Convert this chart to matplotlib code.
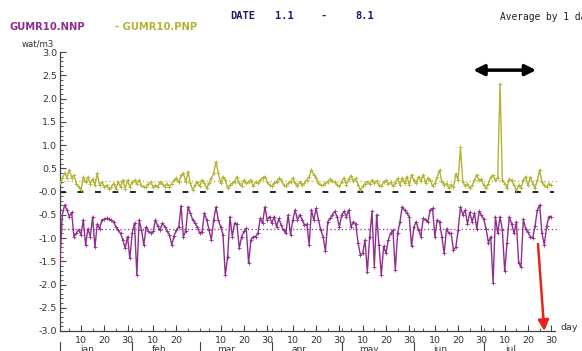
import numpy as np
import matplotlib
matplotlib.use("Agg")
import matplotlib.pyplot as plt
from matplotlib.transforms import blended_transform_factory

# ---------------- data ----------------
nnp = [
    -1.50, -0.50, -0.29, -0.40, -0.54, -0.45, -0.97, -0.90, -0.82, -0.93,
    -0.61, -1.15, -0.80, -0.97, -0.55, -1.20, -0.70, -0.80, -0.61, -0.60,
    -0.58, -0.60, -0.61, -0.65, -0.76, -0.83, -0.90, -1.04, -1.22, -0.97,
    -1.44, -0.90, -0.68, -1.80, -0.61, -0.83, -1.15, -0.76, -0.85, -0.90,
    -0.86, -0.61, -0.75, -0.83, -0.68, -0.76, -0.85, -0.93, -1.15, -0.95,
    -0.83, -0.76, -0.31,
    -0.97, -0.85, -0.33, -0.47, -0.61, -0.68, -0.76, -0.90, -0.87, -0.47,
    -0.61, -0.83, -1.04, -0.61, -0.33, -0.61, -0.76, -0.93, -1.80, -1.40,
    -0.54, -0.97, -0.68, -0.70, -1.22, -0.97, -0.86, -0.79, -1.54, -1.04,
    -0.97, -0.97, -0.90, -0.58, -0.68, -0.33, -0.61, -0.54, -0.68, -0.54,
    -0.76, -0.58, -0.72, -0.83, -0.90, -0.50, -0.93, -0.61, -0.40, -0.61,
    -0.50, -0.61, -0.72,
    -0.70, -1.15, -0.40, -0.61, -0.36, -0.61, -0.83, -0.97, -1.29, -0.65,
    -0.58, -0.50, -0.43, -0.54, -0.76, -0.50, -0.43, -0.54, -0.40, -0.76,
    -0.65, -0.70, -1.10, -1.36, -1.33, -1.04, -1.73, -0.97, -0.43, -1.62,
    -0.50, -1.15, -1.80, -1.18, -1.33, -1.04, -0.90, -0.83, -1.69, -0.90,
    -0.65, -0.33, -0.40, -0.47, -0.54, -1.18, -0.76, -0.65, -0.83, -0.97,
    -0.58, -0.61, -0.65, -0.40, -0.36, -0.97,
    -0.61, -0.65, -0.97, -1.33, -0.80, -0.90, -0.90, -1.26, -1.20, -0.83,
    -0.33, -0.50, -0.40, -0.70, -0.45, -0.65, -0.47, -0.80, -0.43, -0.50,
    -0.60, -0.80, -1.10, -0.97, -1.97, -0.54, -0.90, -0.54, -0.83, -1.72,
    -1.10, -0.54, -0.70, -0.90, -0.65, -1.54, -1.62, -0.60, -0.80, -0.88,
    -0.97, -1.00, -0.75, -0.40, -0.29, -0.90, -1.15, -0.75, -0.54, -0.54,
]

pnp = [
    0.18, 0.28, 0.40, 0.30, 0.46, 0.30, 0.35, 0.17, 0.10, 0.03,
    0.31, 0.20, 0.31, 0.17, 0.27, 0.13, 0.39, 0.13, 0.20, 0.10,
    0.13, 0.06, 0.10, 0.17, 0.06, 0.20, 0.10, 0.24, 0.06, 0.24,
    0.10, 0.20, 0.24, 0.17, 0.24, 0.13, 0.10, 0.10, 0.17, 0.20,
    0.10, 0.13, 0.10, 0.20, 0.17, 0.10, 0.17, 0.10, 0.17, 0.24,
    0.28, 0.20, 0.35,
    0.39, 0.21, 0.43, 0.18, 0.03, 0.14, 0.21, 0.11, 0.25, 0.18,
    0.07, 0.18, 0.30, 0.39, 0.64, 0.39, 0.18, 0.32, 0.25, 0.07,
    0.14, 0.18, 0.21, 0.32, 0.18, 0.11, 0.25, 0.18, 0.21, 0.25,
    0.11, 0.21, 0.18, 0.25, 0.30, 0.32, 0.21, 0.14, 0.11, 0.18,
    0.21, 0.29, 0.25, 0.14, 0.11, 0.18, 0.21, 0.29, 0.18, 0.11,
    0.21, 0.14, 0.18,
    0.25, 0.32, 0.46, 0.36, 0.30, 0.18, 0.13, 0.14, 0.18, 0.21,
    0.27, 0.22, 0.20, 0.14, 0.11, 0.21, 0.30, 0.15, 0.27, 0.34,
    0.22, 0.28, 0.14, 0.03, 0.11, 0.17, 0.21, 0.16, 0.24, 0.19,
    0.23, 0.14, 0.12, 0.20, 0.24, 0.16, 0.20, 0.11, 0.18, 0.28,
    0.15, 0.29, 0.18, 0.32, 0.14, 0.36, 0.24, 0.18, 0.32, 0.22,
    0.36, 0.18, 0.29, 0.25, 0.11, 0.18,
    0.31, 0.46, 0.20, 0.15, 0.17, 0.07, 0.15, 0.10, 0.38, 0.25,
    0.95, 0.20, 0.12, 0.17, 0.07, 0.13, 0.24, 0.36, 0.24, 0.27,
    0.13, 0.07, 0.17, 0.31, 0.35, 0.24, 0.30, 2.31, 0.24, 0.17,
    0.07, 0.27, 0.24, 0.13, 0.03, 0.13, 0.07, 0.24, 0.32, 0.13,
    0.31, 0.17, 0.07, 0.24, 0.46, 0.20, 0.13, 0.10, 0.17, 0.13,
]

months = ["jan", "feb", "mar", "apr", "may", "jun", "jul"]
month_len = [31, 29, 31, 30, 31, 30, 31]
day_labels = [10, 20, 30]
series_names = ["GUMR10.NNP", "- GUMR10.PNP"]
unit_label = "wat/m3"
date_parts = ["DATE", "1.1", "-", "8.1"]
avg_label = "Average by 1 day"

# ---------------- style ----------------
C_NNP = "#8e2f8e"
C_PNP = "#b3b336"
C_TXT = "#333333"

fig = plt.figure(figsize=(5.82, 3.51), dpi=100)
W, H = 582, 351
ax = fig.add_axes([60 / W, 20 / H, 495 / W, 279 / H])

days = np.arange(1, len(nnp) + 1)
ax.set_xlim(1, 213.6)
ax.set_ylim(-3.0, 3.0)

# zero dashed line
ax.plot([days[0], days[-1] + 1], [0, 0], color="black", lw=1.2,
        linestyle=(0, (3.5, 7.0)), zorder=2)

# mean dotted lines
for vals, col in ((nnp, C_NNP), (pnp, C_PNP)):
    m = float(np.mean(vals))
    ax.plot([days[0], days[-1] + 3], [m, m], color=col, lw=0.9,
            linestyle=(0, (1, 2)), clip_on=False, zorder=2)

ax.plot(days, pnp, color=C_PNP, lw=1.0, marker="+", ms=3, mew=0.6, zorder=3)
ax.plot(days, nnp, color=C_NNP, lw=1.0, marker="+", ms=3, mew=0.6, zorder=3)

# spines
for s in ("top", "right"):
    ax.spines[s].set_visible(False)
for s in ("left", "bottom"):
    ax.spines[s].set_color("#444444")
    ax.spines[s].set_linewidth(0.9)

# y ticks
yt = np.arange(-3.0, 3.01, 0.5)
ylabels = ["-0.0" if abs(v) < 1e-9 else f"{v:.1f}" for v in yt]
ax.set_yticks(yt)
ax.set_yticklabels(ylabels)
ax.set_yticks(np.arange(-3.0, 3.01, 0.1), minor=True)

# x ticks
starts = np.cumsum([1] + month_len[:-1])
major_pos, major_lab, minor_pos = [], [], []
for st, ln in zip(starts, month_len):
    for d in day_labels:
        if d <= ln:
            major_pos.append(st + d - 1)
            major_lab.append(str(d))
    for d in (5, 15, 25):
        if d <= ln:
            minor_pos.append(st + d - 1)
    minor_pos.append(st)
ax.set_xticks(major_pos)
ax.set_xticklabels(major_lab)
ax.set_xticks(minor_pos, minor=True)

ax.tick_params(axis="both", which="major", direction="in", length=4.5,
               width=0.8, color="#444444", labelsize=6.8, labelcolor=C_TXT)
ax.tick_params(axis="both", which="minor", direction="in", length=2.5,
               width=0.7, color="#555555")
ax.tick_params(axis="x", which="major", pad=3.5)
ax.tick_params(axis="y", which="major", pad=2)

# month labels and separators (bottom row, partly below the picture edge)
tr = blended_transform_factory(ax.transData, ax.transAxes)
for st, name in zip(starts, months):
    ax.text(st + 11.5, -0.066, name, transform=tr, ha="center", va="center",
            fontsize=6.5, color=C_TXT, clip_on=False)
    ax.plot([st, st], [-0.04, -0.09], transform=tr, color="#444444",
            lw=0.8, clip_on=False)

# texts
fig.text(578 / W, 1 - 328 / H, "day", ha="right", va="center",
         fontsize=6.8, color=C_TXT)
fig.text(22 / W, 1 - 44 / H, unit_label, ha="left", va="center",
         fontsize=6.2, color=C_TXT)
fig.text(10 / W, 1 - 27 / H, series_names[0], ha="left", va="center",
         fontsize=7.2, color=C_NNP, fontweight="bold")
fig.text(115 / W, 1 - 27 / H, series_names[1], ha="left", va="center",
         fontsize=7.2, color=C_PNP, fontweight="bold")
for xpix, part in zip((230, 275, 320, 355), date_parts):
    fig.text(xpix / W, 1 - 16 / H, part, ha="left", va="center",
             fontsize=7.5, color="#1c1c6a", fontweight="bold",
             family="DejaVu Sans Mono")
fig.text(500 / W, 1 - 17 / H, avg_label, ha="left", va="center",
         fontsize=6.9, color="#222222", family="DejaVu Sans Mono")

# annotations (arrows)
ax.annotate("", xy=(205.5, 2.61), xytext=(178.5, 2.61),
            arrowprops=dict(arrowstyle="<|-|>", color="black", lw=2.5,
                            mutation_scale=16, shrinkA=0, shrinkB=0))
ax.annotate("", xy=(209.0, -3.0), xytext=(206.3, -1.13),
            arrowprops=dict(arrowstyle="-|>", color="#e8231c", lw=1.8,
                            mutation_scale=16, shrinkA=0, shrinkB=0),
            annotation_clip=False)

fig.savefig("out.png", dpi=100)
